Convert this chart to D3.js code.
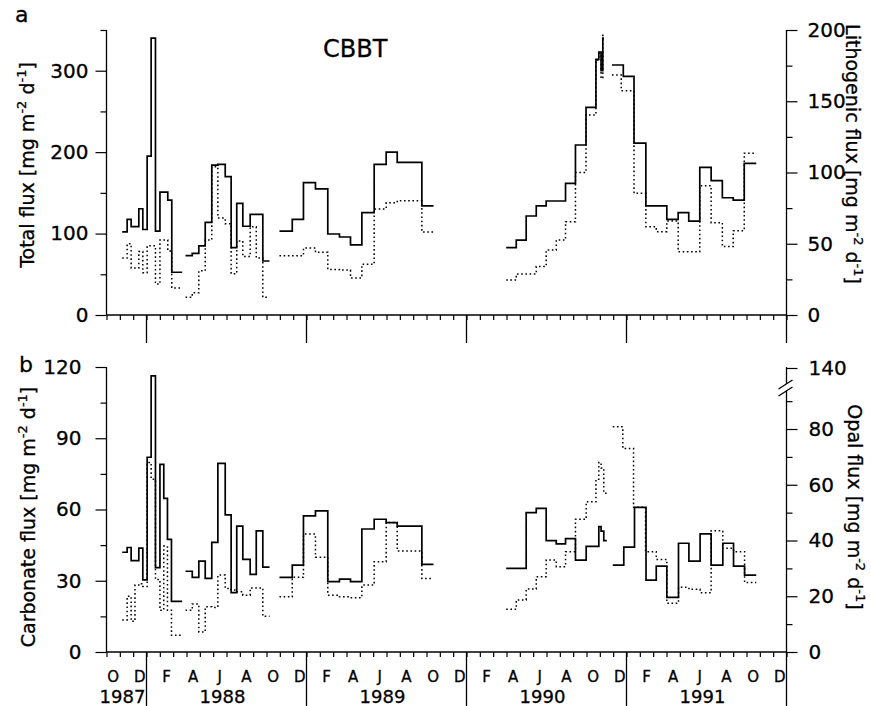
<!DOCTYPE html>
<html><head><meta charset="utf-8">
<script src="https://cdn.jsdelivr.net/npm/d3@7"></script>
<style>
body{margin:0;background:#fff;}
svg text{font-family:"DejaVu Sans",sans-serif;fill:#000;stroke:#000;stroke-width:0.3px;}
</style></head>
<body><svg id="c" width="871" height="706"></svg>
<script>
// ---------------- data (decimal years; step intervals, null = gap) ----------------
const monthLetters = ["J","F","M","A","M","J","J","A","S","O","N","D"];
const years = [1987, 1988, 1989, 1990, 1991];

const totalTicks = [0, 100, 200, 300];
const lithTicks = [0, 50, 100, 150, 200];
const carbTicks = [0, 30, 60, 90, 120];
const opalTicks = [0, 20, 40, 60, 80, 140];

const totalEdges = [1987.848,1987.879,1987.904,1987.952,1987.977,1988.004,1988.029,1988.056,1988.084,1988.133,1988.158,1988.223,
 1988.244,1988.286,1988.327,1988.367,1988.408,1988.446,1988.492,1988.529,1988.564,1988.602,1988.648,1988.727,1988.769,
 1988.831,1988.911,1988.981,1989.056,1989.133,1989.206,1989.275,1989.346,1989.423,1989.498,1989.567,1989.721,1989.794,
 1990.248,1990.311,1990.373,1990.436,1990.498,1990.619,1990.681,1990.747,1990.809,1990.827,1990.841,1990.852,1990.859,
 1990.909,1990.980,1991.047,1991.121,1991.252,1991.323,1991.389,1991.458,1991.529,1991.599,1991.667,1991.736,1991.811];
const totalVals = [102,117.5,108.5,130.5,105,195,340,103,151,141,52.5, null,
 72.9,75.7,85,113.8,184,185,170,82.7,137,109,123.6,66.3, null,
 103,117.5,162.5,155,99.5,95.8,86,125.7,185,200,187.5,134, null,
 82.7,92,121.6,134,140,161.7,208.8,255,314,323,300,340, null,
 307,293,211,134,117.5,125.7,115.4,181.4,165,144,141,186.3];

const lithEdges = [1987.848,1987.879,1987.904,1987.952,1987.977,1988.004,1988.056,1988.084,1988.133,1988.158,1988.223,
 1988.244,1988.286,1988.327,1988.367,1988.408,1988.446,1988.492,1988.529,1988.564,1988.602,1988.648,1988.686,1988.727,1988.769,
 1988.831,1988.981,1989.056,1989.133,1989.206,1989.275,1989.346,1989.423,1989.498,1989.567,1989.721,1989.794,
 1990.248,1990.311,1990.373,1990.436,1990.498,1990.561,1990.619,1990.681,1990.747,1990.809,1990.827,1990.841,1990.852,1990.859,
 1990.909,1990.967,1991.047,1991.121,1991.186,1991.252,1991.323,1991.458,1991.529,1991.599,1991.667,1991.736,1991.811];
const lithVals = [40,50,33,44.6,29.7,48.6,21.7,52.6,45,18.9, null,
 12.4,15.6,31,52.6,104,68,64,29,52,41,62,40,12.4, null,
 41.6,47,44,32,31.5,26,35.6,74.4,78.8,80.2,58.2, null,
 24.6,28.8,28.8,34,45.6,52.6,65.5,100,140.4,179,183.6,166,197.7, null,
 168.4,157.4,85.4,62,58.5,66,44.4,90.7,64.8,48,59.2,113.5];

const carbEdges = [1987.848,1987.879,1987.904,1987.952,1987.977,1988.004,1988.029,1988.056,1988.084,1988.108,1988.131,1988.156,1988.223,
 1988.244,1988.286,1988.327,1988.367,1988.408,1988.446,1988.492,1988.529,1988.564,1988.602,1988.648,1988.686,1988.727,1988.769,
 1988.831,1988.911,1988.981,1989.056,1989.133,1989.206,1989.275,1989.346,1989.423,1989.498,1989.567,1989.721,1989.794,
 1990.248,1990.373,1990.436,1990.498,1990.561,1990.619,1990.681,1990.748,1990.827,1990.841,1990.858,1990.877,
 1990.914,1990.983,1991.050,1991.122,1991.186,1991.252,1991.325,1991.390,1991.460,1991.529,1991.602,1991.669,1991.738,1991.811];
const carbVals = [42,44,38.5,43.7,30.4,82,116.3,35.5,79,64.7,47.4,21.3, null,
 34,31.4,38.3,31,46.2,79.4,57.7,25,53,39,32.7,51,35.7, null,
 31.4,36.6,57.3,59.4,29.6,30.7,29.6,51.8,55.9,54.5,53,36.9, null,
 35.2,58.7,60.5,46.9,45.5,47.7,38.7,44.5,52.8,50.9,46.9, null,
 36.6,44.2,60.9,30.3,36.2,23,45.8,38.3,49.7,36.6,45.8,36.2,32.4];

const opalEdges = [1987.848,1987.879,1987.904,1987.928,1987.952,1987.977,1988.004,1988.029,1988.056,1988.084,1988.108,1988.131,1988.156,1988.223,
 1988.244,1988.286,1988.327,1988.367,1988.408,1988.446,1988.492,1988.529,1988.564,1988.602,1988.648,1988.686,1988.727,1988.769,
 1988.831,1988.911,1988.981,1989.056,1989.133,1989.206,1989.275,1989.346,1989.423,1989.498,1989.567,1989.721,1989.794,
 1990.248,1990.311,1990.373,1990.436,1990.498,1990.561,1990.619,1990.681,1990.748,1990.809,1990.827,1990.841,1990.858,1990.877,
 1990.914,1990.977,1991.044,1991.119,1991.186,1991.252,1991.325,1991.390,1991.460,1991.529,1991.602,1991.669,1991.738,1991.811];
const opalVals = [11.5,20,11,24,24.5,23.5,68,62,26,15,38,15,6, null,
 15,17.2,7.2,16.2,16,27.6,22.8,22.2,21.6,20.4,23,23,12.8, null,
 19.8,26.8,42.3,34,20.4,19.8,19.5,24,32.4,46.5,36.2,26.4, null,
 15.3,18.7,22.6,27,33,30.6,36,47.6,53.9,62,68,66,57, null,
 80.8,73,51.9,36,33.2,17.5,23.2,22.5,21.3,43.5,37.2,36,24.9];

// ---------------- layout ----------------
const svg = d3.select("#c");
const x = d3.scaleLinear().domain([1987.75, 1992]).range([106.5, 786.5]);
const yTot = d3.scaleLinear().domain([0, 350]).range([315, 30]);
const yLith = d3.scaleLinear().domain([0, 200]).range([315, 30]);
const yCarb = d3.scaleLinear().domain([0, 120]).range([652, 367]);
const yOpal = d3.scaleLinear().domain([0, 94, 140]).range([652, 390, 368]);

const X0 = x.range()[0], X1 = x.range()[1];

function stepPts(edges, vals){
  const pts=[];
  vals.forEach((v,i)=>{
    if(v==null){pts.push({t:edges[i],v:null});return;}
    pts.push({t:edges[i],v:v},{t:edges[i+1],v:v});
  });
  return pts;
}
function drawSeries(edges, vals, y, dotted){
  const line = d3.line().defined(d=>d.v!=null).x(d=>x(d.t)).y(d=>y(d.v));
  svg.append("path").datum(stepPts(edges, vals)).attr("d", line)
    .attr("fill","none").attr("stroke","#000")
    .attr("stroke-width", dotted?1.5:1.7)
    .attr("stroke-dasharray", dotted?"1.6,2.6":null)
    .attr("stroke-linejoin","miter");
}

function styleAxis(g){
  g.select(".domain").remove();
  g.attr("font-size", null).attr("font-family", null);
  g.selectAll(".tick line").attr("stroke","#000").attr("stroke-width",1.2);
  g.selectAll(".tick text").style("font-size","20px").style("font-family","'DejaVu Sans'");
}
function yAxis(y, side, major, minorVals, pad, top, bottom){
  const ax = side==="left"?d3.axisLeft:d3.axisRight;
  const tx = side==="left"?X0:X1;
  svg.append("g").attr("transform",`translate(${tx},0)`)
    .call(ax(y).tickValues(minorVals).tickSize(6).tickFormat("")).call(styleAxis);
  svg.append("g").attr("transform",`translate(${tx},0)`)
    .call(ax(y).tickValues(major).tickSize(11).tickPadding(pad).tickFormat(d3.format("d"))).call(styleAxis);
  svg.append("line").attr("x1",tx).attr("x2",tx).attr("y1",top).attr("y2",bottom)
    .attr("stroke","#000").attr("stroke-width",1.3);
}

// x axes
const monthTicks = d3.range(0, 52).map(k => 1987.75 + k/12);
function xAxis(y0, yearBottom){
  svg.append("line").attr("x1",X0).attr("x2",X1).attr("y1",y0).attr("y2",y0)
    .attr("stroke","#000").attr("stroke-width",1.4);
  const g = svg.append("g").attr("transform",`translate(0,${y0})`)
    .call(d3.axisBottom(x).tickValues(monthTicks).tickSize(5).tickFormat(""));
  styleAxis(g);
  [1988,1989,1990,1991].forEach(yr=>{
    svg.append("line").attr("x1",x(yr)).attr("x2",x(yr)).attr("y1",y0).attr("y2",yearBottom)
      .attr("stroke","#000").attr("stroke-width",1.3);
  });
}

// ---- panel a ----
xAxis(315, 343);
yAxis(yTot, "left", totalTicks, [50,150,250,350], 7, 30, 315);
yAxis(yLith, "right", lithTicks, [25,75,125,175], 10, 30, 343);
drawSeries(lithEdges, lithVals, yLith, true);
drawSeries(totalEdges, totalVals, yTot, false);

// ---- panel b ----
xAxis(652, 706);
yAxis(yCarb, "left", carbTicks, [15,45,75,105], 14, 367, 652);
// right opal axis with break
svg.append("g").attr("transform",`translate(${X1},0)`)
  .call(d3.axisRight(yOpal).tickValues([10,30,50,70,90]).tickSize(6).tickFormat("")).call(styleAxis);
svg.append("g").attr("transform",`translate(${X1},0)`)
  .call(d3.axisRight(yOpal).tickValues(opalTicks).tickSize(11).tickPadding(11).tickFormat(d3.format("d"))).call(styleAxis);
const brkA = yOpal(94) - 6, brkB = yOpal(94) + 1;
svg.append("line").attr("x1",X1).attr("x2",X1).attr("y1",367).attr("y2",brkA).attr("stroke","#000").attr("stroke-width",1.3);
svg.append("line").attr("x1",X1).attr("x2",X1).attr("y1",brkB).attr("y2",706).attr("stroke","#000").attr("stroke-width",1.3);
[brkA, brkB].forEach(yy=>{
  svg.append("line").attr("x1",X1-8).attr("x2",X1+6).attr("y1",yy+5).attr("y2",yy-4)
    .attr("stroke","#000").attr("stroke-width",1.3);
});
drawSeries(opalEdges, opalVals, yOpal, true);
drawSeries(carbEdges, carbVals, yCarb, false);

// month letters & years
monthTicks.forEach(t=>{
  const m = Math.round((t - Math.floor(t))*12 + 1e-6); // 0..11
  if ((m+1) % 2 === 0){
    svg.append("text").attr("x", x(t + 1/24)).attr("y", 682).attr("text-anchor","middle")
      .style("font-size","15px").text(monthLetters[m]);
  }
});
years.forEach(yr=>{
  const a = Math.max(yr, 1987.75), b = yr+1;
  svg.append("text").attr("x", x((a+b)/2) - 4).attr("y", 703).attr("text-anchor","middle")
    .style("font-size","18px").text(yr);
});

// titles
function title(xp, yp, rot, name){
  const t = svg.append("text").attr("transform",`translate(${xp},${yp}) rotate(${rot})`)
    .attr("text-anchor","middle").style("font-size","19px");
  t.append("tspan").text(name + " flux [mg m");
  t.append("tspan").style("font-size","13px").attr("dy",-8).text("-2");
  t.append("tspan").attr("dy",8).text(" d");
  t.append("tspan").style("font-size","13px").attr("dy",-8).text("-1");
  t.append("tspan").attr("dy",8).text("]");
}
title(34, 165, -90, "Total");
title(35, 517, -90, "Carbonate");
title(846, 154, 90, "Lithogenic");
title(848, 507, 90, "Opal");

svg.append("text").attr("x",15).attr("y",22).style("font-size","22px").text("a");
svg.append("text").attr("x",19).attr("y",372).style("font-size","22px").text("b");
svg.append("text").attr("x",323).attr("y",57).style("font-size","24px").text("CBBT");
</script></body></html>
